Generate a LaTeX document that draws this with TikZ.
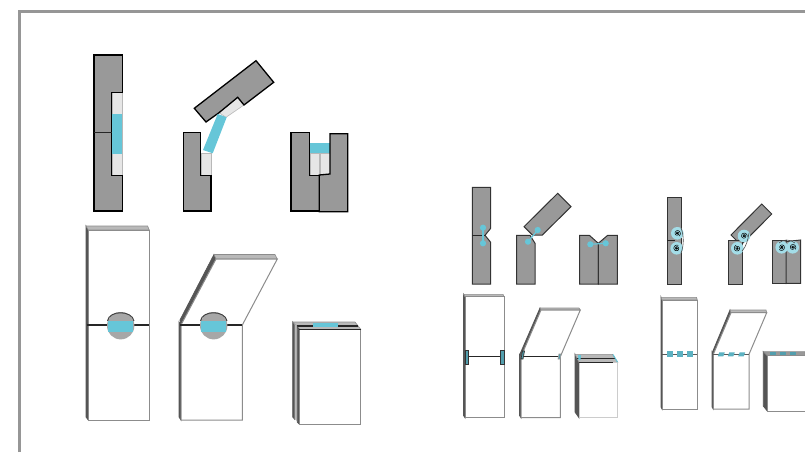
\documentclass[tikz,border=0pt]{standalone}
\usepackage{xcolor}
\usetikzlibrary{calc}
\definecolor{hingegray}{RGB}{153, 153, 153}
\definecolor{hingelight}{RGB}{230, 230, 230}
\definecolor{hingecyan}{RGB}{102, 198, 216}
\definecolor{sidegray}{RGB}{85, 85, 85}
\definecolor{topgray}{RGB}{185, 185, 185}
\definecolor{edgegray}{RGB}{140, 140, 140}
\definecolor{framegray}{RGB}{150, 150, 150}

\begin{document}
\begin{tikzpicture}[
  x=1pt, y=-1pt,
  solid/.style={draw=black, fill=hingegray, line width=1.3pt, line join=miter},
  solidthin/.style={draw=black!80, fill=hingegray, line width=1pt, line join=miter},
  pad/.style={draw=hingegray!70, fill=hingelight, line width=0.6pt},
  band/.style={fill=hingecyan},
  front/.style={draw=edgegray, fill=white, line width=1pt},
  leftside/.style={draw=sidegray, fill=sidegray, line width=0.8pt},
  topside/.style={draw=edgegray, fill=topgray, line width=0.6pt},
  seam/.style={draw=black!85, line width=1.2pt},
  dot/.style={fill=hingecyan, draw=none},
  link/.style={draw=hingecyan, line width=1.2pt},
  tab/.style={draw=black!80, fill=hingecyan!80!black, line width=0.7pt},
  swirlbg/.style={fill=hingecyan!60},
  swirlline/.style={draw=black, line width=0.5pt}
]
\useasboundingbox (0,0) rectangle (805,452);
\clip (0,0) rectangle (805,452);

% Frame
\draw[framegray, line width=2.5pt] (19.7,452) -- (19.7,11.3) -- (805,11.3);

% Large hinge, sections
\path[pad] (112,92.5) rectangle (122.3,176);
\path[band] (112,114) rectangle (122.3,153.5);
\draw[solid] (94,55) -- (122.3,55) -- (122.3,92.3) -- (111.7,92.3) -- (111.7,175.7) -- (122.3,175.7) -- (122.3,211) -- (94,211) -- cycle;
\draw[seam] (94,132.3) -- (111.7,132.3);

\path[pad] (201,153) rectangle (211,176);
\draw[solid] (183.3,132.7) -- (200.7,132.7) -- (200.7,175.7) -- (211,175.7) -- (211,211) -- (183.3,211) -- cycle;
\path[pad] (219,112.7) -- (237.7,97.3) -- (244,105) -- (226,117.3) -- cycle;
\draw[solid] (194.3,108.3) -- (256,60.7) -- (273.7,82.3) -- (244,105) -- (237.7,97.3) -- (219,112.7) -- (206,122) -- cycle;
\path[band] (217.7,114) -- (226.7,117.3) -- (212.7,153.3) -- (203,150) -- cycle;

\path[pad] (310,153) rectangle (319.3,175.7);
\path[pad] (320,153) rectangle (330,174);
\path[band] (309.7,143.3) rectangle (330,153.3);
\draw[solid] (291,132.7) -- (309.3,132.7) -- (309.3,175.7) -- (319.3,175.7) -- (319.3,211) -- (291,211) -- cycle;
\draw[solid] (319.3,175) -- (330,174) -- (330,133.7) -- (347.7,133.7) -- (347.7,211.7) -- (319.3,211.7) -- cycle;

% Large hinge, plates
\path[leftside] (86,226) -- (88.3,230) -- (88.3,420) -- (86,417) -- cycle;
\path[topside] (86,226) -- (147.6,226) -- (149.3,230) -- (88.3,230) -- cycle;
\path[front] (88.3,230) rectangle (149.3,420);
\draw[seam] (86.5,325) -- (149.3,325);
\fill[topgray!90!black] (120.7,325.7) circle (13.7);
\draw[black!75, line width=1pt] (107.5,321) .. controls (109,310) and (132,310) .. (134,321);
\path[band] (107.5,320.7) rectangle (133,331.7);

\path[leftside] (179,322) -- (181,325) -- (181,420) -- (179,417) -- cycle;
\path[leftside] (180,320) -- (214,254.5) -- (216,259) -- (181,325) -- cycle;
\path[topside] (214,254.5) -- (275,254.5) -- (277.3,259) -- (216,259) -- cycle;
\path[front] (181,325) -- (216,259) -- (277.3,259) -- (242.3,325) -- (242.3,420) -- (181,420) -- cycle;
\draw[seam] (180,325) -- (242.3,325);
\fill[topgray!90!black] (213.7,325.7) circle (13.7);
\draw[black!75, line width=1pt] (200.5,321) .. controls (202,310) and (225,310) .. (227,321);
\path[band] (200.5,320.7) rectangle (226,331.7);

\path[leftside] (292.7,322) -- (294.5,324) -- (294.5,419) -- (292.7,417) -- cycle;
\path[topside] (292.7,322) -- (355,322) -- (360.7,329.3) -- (299.3,329.3) -- cycle;
\path[fill=topgray] (294.5,324) -- (297,326) -- (297,421) -- (294.5,419) -- cycle;
\draw[seam] (296.7,326) -- (357.5,326);
\path[leftside] (297.3,327) -- (299.3,329.3) -- (299.3,424) -- (297.3,422) -- cycle;
\path[front] (299.3,329.3) rectangle (360.7,424);
\draw[seam] (299.3,329.3) -- (360.7,329.3);
\fill[hingecyan] (313.3,323.3) rectangle (338.3,326.7);

% Medium hinge, sections
\draw[solidthin] (472.3,187.3) -- (490.7,187.3) -- (490.7,228.3) -- (485,235.3) -- (490.7,242.3) -- (490.7,284) -- (472.3,284) -- cycle;
\draw[seam] (472.3,235.3) -- (485,235.3);
\draw[link] (483,227.7) -- (483,243.3);
\foreach \px/\py in {483/227.7, 483/243.3} {
  \fill[dot] (\px,\py) circle (3.1);
}

\draw[solidthin] (524,226.7) -- (557.7,193.3) -- (571,206.7) -- (542.3,235) -- (532.3,235) -- cycle;
\draw[solidthin] (516.7,235.3) -- (530,235.3) -- (535,243.3) -- (535,284) -- (516.7,284) -- cycle;
\draw[link] (537.7,230) -- (528,241.7);
\foreach \px/\py in {537.7/230, 528/241.7} {
  \fill[dot] (\px,\py) circle (3.1);
}

\draw[solidthin] (579.7,235.3) -- (589.3,235.3) -- (598.3,243.3) -- (598.3,284) -- (579.7,284) -- cycle;
\draw[solidthin] (598.3,243.3) -- (607.7,235.3) -- (617.3,235.3) -- (617.3,284) -- (598.3,284) -- cycle;
\draw[link] (590.3,244.3) -- (605.7,243.3);
\foreach \px/\py in {590.3/244.3, 605.7/243.3} {
  \fill[dot] (\px,\py) circle (3.1);
}

% Medium hinge, plates
\path[leftside] (463.5,294.3) -- (465,296.7) -- (465,417.7) -- (463.5,415.5) -- cycle;
\path[topside] (463.5,294.3) -- (503,294.3) -- (504,296.7) -- (465,296.7) -- cycle;
\path[front] (465,296.7) rectangle (504,417.7);
\draw[seam] (465,356.7) -- (504,356.7);
\draw[tab] (465,350) rectangle (468,364);
\draw[tab] (500.7,350) rectangle (504,364);

\path[leftside] (519.5,354.5) -- (521,356.7) -- (521,417.7) -- (519.5,415.5) -- cycle;
\path[leftside] (520,354) -- (540,308) -- (541,310) -- (521,356.7) -- cycle;
\path[topside] (540,308) -- (579,308) -- (580.3,310) -- (541,310) -- cycle;
\path[front] (521,356.7) -- (541,310) -- (580.3,310) -- (560.3,356.7) -- (560.3,417.7) -- (521,417.7) -- cycle;
\draw[seam] (521,356.7) -- (560.3,356.7);
\draw[tab] (522.5,351) -- (524.5,351) -- (523,359) -- (521,359) -- cycle;
\draw[tab, draw=hingegray] (559,354) -- (561,354) -- (560,359) -- (558,359) -- cycle;

\path[leftside] (575,354.3) -- (579,362.3) -- (579,417.7) -- (575,412) -- cycle;
\path[topside] (575,354.3) -- (612.5,354.3) -- (617.7,362.3) -- (579,362.3) -- cycle;
\draw[seam] (577,358.5) -- (614.5,358.5);
\path[front, draw=hingegray!50] (579,362.3) -- (617.7,362.3) -- (617.7,417.7) -- (579,417.7) -- cycle;
\draw[seam] (579,362.3) -- (613,362.3);
\fill[hingecyan] (578,355) -- (581,355) -- (580.5,360) -- (578.5,360) -- cycle;
\draw[hingecyan, line width=1pt] (613,354.5) -- (617.5,362);

% Small hinge, sections
\draw[solidthin] (667.3,197.3) -- (681.7,197.3) -- (681.7,284.3) -- (667.3,284.3) -- cycle;
\foreach \sx/\sy/\sr in {677.3/233.3/60, 676.7/248.3/300} {
  \fill[swirlbg] (\sx,\sy) circle (6.3);
  \draw[swirlline] plot[domain=0:720, samples=40, smooth] ({\sx+(0.3+\x/720*3)*cos(\x+\sr)}, {\sy+(0.3+\x/720*3)*sin(\x+\sr)});
  \fill[black] (\sx,\sy) circle (1.1);
}
\draw[seam] (667.3,240.7) -- (675,240.7);
\draw[black!70, line width=0.6pt] (681,228) .. controls (684,235) and (684,246) .. (681,253);

\draw[solidthin] (731,235) -- (761.7,204) -- (771.7,214) -- (741,245) -- cycle;
\draw[solidthin] (728.3,240.7) -- (742.3,240.7) -- (742.3,284.3) -- (728.3,284.3) -- cycle;
\foreach \sx/\sy/\sr in {744/236/20, 737.3/248.3/250} {
  \fill[swirlbg] (\sx,\sy) circle (6.3);
  \draw[swirlline] plot[domain=0:720, samples=40, smooth] ({\sx+(0.3+\x/720*3)*cos(\x+\sr)}, {\sy+(0.3+\x/720*3)*sin(\x+\sr)});
  \fill[black] (\sx,\sy) circle (1.1);
}
\draw[black!70, line width=0.6pt] (749,233) .. controls (748,240) and (746,247) .. (742,251);

\draw[solidthin] (772.3,240.7) -- (786,240.7) -- (786,283.5) -- (772.3,283.5) -- cycle;
\draw[solidthin] (786,241.5) -- (800.7,240) -- (800.7,283.3) -- (786,283.5) -- cycle;
\foreach \sx/\sy/\sr in {781.7/247.3/140, 792.7/247.3/40} {
  \fill[swirlbg] (\sx,\sy) circle (6.3);
  \draw[swirlline] plot[domain=0:720, samples=40, smooth] ({\sx+(0.3+\x/720*3)*cos(\x+\sr)}, {\sy+(0.3+\x/720*3)*sin(\x+\sr)});
  \fill[black] (\sx,\sy) circle (1.1);
}
\draw[black!70, line width=0.6pt] (779,243) .. controls (783,239) and (790,239) .. (795,243);

% Small hinge, plates
\path[leftside] (661,297.3) -- (662,300) -- (662,409) -- (661,407) -- cycle;
\path[topside] (661,297.3) -- (696.5,297.3) -- (697.3,300) -- (662,300) -- cycle;
\path[front] (662,300) rectangle (697.3,409);
\draw[seam, draw=black!65] (662,354.3) -- (697.3,354.3);
\foreach \px in {669.7, 679.7, 690} {
  \fill[hingecyan!90!black] (\px-3,351.3) rectangle (\px+3,357.3);
}

\path[leftside] (712,352) -- (713.3,354.3) -- (713.3,409) -- (712,407) -- cycle;
\path[leftside] (712.5,352) -- (730,310) -- (731,312.7) -- (713.3,354.3) -- cycle;
\path[topside] (730,310) -- (766,310) -- (766.7,312.7) -- (731,312.7) -- cycle;
\path[front] (713.3,354.3) -- (731,312.7) -- (766.7,312.7) -- (749,354.3) -- (749,409) -- (713.3,409) -- cycle;
\draw[seam, draw=black!65] (713.3,354.3) -- (749,354.3);
\foreach \px in {721.3, 731.3, 741.7} {
  \fill[hingecyan!90!black] (\px-2,352.3) -- (\px+3.5,352.3) -- (\px+2,356.3) -- (\px-3.5,356.3) -- cycle;
}

\path[leftside] (763.3,351.7) -- (767.3,355.7) -- (767.3,411) -- (763.3,406) -- cycle;
\path[topside, fill=hingegray] (763.3,351.7) -- (805,351.7) -- (805,355.7) -- (767.3,355.7) -- cycle;
\path[front] (767.3,355.7) rectangle (806,411);
\foreach \px in {772.7, 782.7, 793.3} {
  \fill[hingecyan!80!black] (\px-3,351.5) rectangle (\px+3,355.4);
}
\end{tikzpicture}
\end{document}
